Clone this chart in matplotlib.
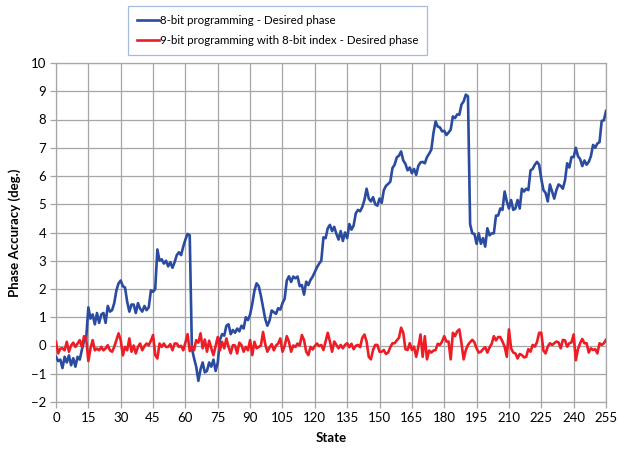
import matplotlib
matplotlib.use("Agg")
import matplotlib.pyplot as plt
import numpy as np

plt.rcParams['font.family'] = ['Lato', 'DejaVu Sans']

# x categories: programmed state 0..255
states = list(range(256))

# 8-bit programming - desired phase (deg.)
blue_8bit = [
    -0.40, -0.55, -0.50, -0.80, -0.40, -0.60, -0.35, -0.70, -0.45, -0.75,
    -0.40, -0.50, -0.15, 0.15, 0.25, 1.35, 0.95, 1.10, 0.75, 1.15,
    0.80, 1.10, 1.15, 0.80, 1.40, 1.20, 1.25, 1.50, 1.95, 2.20,
    2.30, 2.10, 2.05, 1.55, 1.20, 1.45, 1.45, 1.15, 1.50, 1.30,
    1.20, 1.40, 1.25, 1.35, 1.95, 1.90, 2.00, 3.40, 3.00, 3.05,
    2.90, 3.00, 2.80, 2.95, 2.75, 2.95, 3.20, 3.30, 3.20, 3.50,
    3.75, 3.95, 3.90, -0.10, -0.45, -0.75, -1.25, -0.85, -0.60, -0.95,
    -0.90, -0.60, -0.75, -0.50, -0.90, -0.60, 0.20, 0.40, 0.35, 0.70,
    0.75, 0.40, 0.55, 0.45, 0.60, 0.50, 0.70, 0.60, 1.00, 0.90,
    1.10, 1.47, 1.94, 2.20, 2.10, 1.76, 1.35, 0.94, 0.70, 0.88,
    1.24, 1.18, 1.12, 1.32, 1.27, 1.50, 1.65, 2.30, 2.45, 2.25,
    2.44, 2.38, 2.44, 2.10, 2.14, 1.80, 2.26, 2.14, 2.32, 2.44,
    2.60, 2.77, 2.90, 3.00, 3.83, 3.80, 4.15, 4.27, 4.05, 4.20,
    3.95, 3.75, 4.05, 3.70, 4.00, 3.80, 4.30, 4.10, 4.25, 4.68,
    4.80, 4.75, 4.90, 5.15, 5.55, 5.20, 5.10, 5.25, 5.00, 4.95,
    5.20, 5.05, 5.50, 5.65, 5.72, 5.80, 6.28, 6.40, 6.66, 6.72,
    6.87, 6.55, 6.43, 6.20, 6.30, 6.10, 6.25, 6.04, 6.36, 6.48,
    6.50, 6.45, 6.67, 6.79, 6.93, 7.52, 7.93, 7.75, 7.72, 7.58,
    7.60, 7.45, 7.54, 7.64, 8.11, 8.05, 8.18, 8.17, 8.53, 8.64,
    8.88, 8.82, 4.30, 3.97, 3.95, 3.60, 3.97, 3.60, 3.80, 3.50,
    4.15, 3.90, 3.97, 3.97, 4.60, 4.60, 4.85, 4.80, 5.45, 5.10,
    4.85, 5.15, 4.80, 4.85, 5.15, 4.85, 5.55, 5.45, 5.55, 5.50,
    6.20, 6.25, 6.40, 6.50, 6.40, 5.90, 5.50, 5.40, 5.10, 5.70,
    5.45, 5.20, 5.50, 5.70, 5.65, 5.55, 5.85, 6.45, 6.30, 6.67,
    6.67, 7.00, 6.70, 6.60, 6.35, 6.55, 6.40, 6.50, 6.70, 7.10,
    7.00, 7.15, 7.20, 7.95, 7.97, 8.30,
]

# 9-bit programming with 8-bit index - desired phase (deg.)
red_9bit = [
    0.13, -0.28, -0.11, -0.10, -0.17, 0.13, -0.22, 0.00, 0.10, -0.05,
    0.07, 0.19, -0.05, 0.33, 0.25, -0.55, -0.10, 0.19, -0.17, -0.11,
    -0.17, -0.05, -0.17, -0.10, 0.01, -0.17, -0.22, -0.05, 0.19, 0.43,
    0.19, -0.35, -0.05, -0.17, 0.25, -0.22, 0.00, -0.28, -0.05, 0.07,
    -0.17, -0.02, 0.07, 0.01, 0.17, 0.37, -0.34, -0.46, 0.07, -0.05,
    0.07, -0.05, -0.05, 0.05, -0.17, 0.07, 0.07, -0.05, -0.01, -0.17,
    0.10, 0.40, -0.20, -0.02, -0.17, 0.19, 0.10, 0.43, -0.10, 0.21,
    -0.22, 0.17, -0.10, -0.34, -0.02, 0.30, -0.17, 0.13, -0.10, 0.25,
    -0.05, -0.28, 0.01, 0.00, -0.28, 0.10, 0.01, -0.22, -0.05, -0.17,
    0.19, -0.34, 0.13, -0.10, -0.05, 0.00, 0.48, 0.05, -0.22, -0.07,
    0.05, -0.17, 0.00, 0.07, 0.25, -0.22, -0.02, 0.33, 0.13, -0.22,
    0.00, -0.05, 0.07, 0.00, 0.37, 0.19, -0.22, -0.34, -0.05, -0.14,
    -0.02, 0.07, -0.02, 0.02, -0.16, 0.14, 0.45, 0.14, -0.22, 0.14,
    0.02, -0.10, 0.02, -0.10, 0.02, 0.08, -0.06, 0.06, -0.13, -0.01,
    0.02, -0.06, 0.27, 0.39, 0.14, -0.40, -0.49, -0.16, 0.02, 0.02,
    -0.22, -0.22, -0.16, -0.30, -0.25, -0.06, 0.08, 0.08, 0.18, 0.27,
    0.63, 0.45, -0.13, -0.16, 0.08, -0.16, -0.04, -0.40, -0.04, 0.39,
    -0.40, 0.33, -0.49, -0.18, -0.25, -0.18, -0.16, 0.06, 0.02, 0.14,
    0.33, 0.14, 0.14, -0.49, 0.45, 0.33, 0.50, 0.57, 0.08, -0.49,
    -0.16, 0.02, 0.12, 0.20, 0.11, -0.10, -0.25, -0.22, -0.13, -0.06,
    -0.25, -0.07, 0.06, 0.33, 0.18, 0.30, 0.30, 0.14, -0.04, -0.40,
    0.57, -0.10, -0.25, -0.28, -0.46, -0.30, -0.34, -0.42, -0.40, -0.13,
    -0.22, 0.02, -0.04, 0.12, 0.45, 0.45, -0.18, -0.28, -0.04, 0.08,
    0.02, 0.08, 0.14, 0.11, -0.10, 0.20, 0.18, -0.04, 0.08, 0.11,
    0.39, -0.52, -0.13, 0.08, 0.23, 0.08, 0.08, -0.25, -0.10, -0.16,
    -0.13, -0.28, 0.08, 0.02, 0.08, 0.20,
]

x_ticks = list(range(0, 256, 15))
y_ticks = list(range(-2, 11))
series_names = ["8-bit programming - Desired phase",
                "9-bit programming with 8-bit index - Desired phase"]

W, H = 618, 451
fig = plt.figure(figsize=(W / 100, H / 100), dpi=100)
ax = fig.add_axes([56 / W, 1 - 402 / H, (606 - 56) / W, (402 - 63) / H])

grid_col = "#A6A6A6"
ax.plot(states, blue_8bit, color="#2B4BA0", lw=1.9, label=series_names[0],
        solid_joinstyle="round", zorder=3)
ax.plot(states, red_9bit, color="#EE1D25", lw=1.9, label=series_names[1],
        solid_joinstyle="round", zorder=4)

ax.set_xlim(0, 255)
ax.set_ylim(-2, 10)
ax.set_xticks(x_ticks)
ax.set_yticks(y_ticks)
ax.grid(True, color=grid_col, lw=0.9)
ax.set_axisbelow(True)
for s in ax.spines.values():
    s.set_color(grid_col)
    s.set_linewidth(0.9)
ax.tick_params(axis="both", colors=grid_col, labelcolor="black",
               labelsize=9.5, length=4, width=0.9, pad=3)

ax.set_xlabel("State", fontsize=9.5, fontweight="bold", labelpad=6)
ax.set_ylabel("Phase Accuracy (deg.)", fontsize=9.5, fontweight="bold", labelpad=7)

leg = fig.legend(loc="upper left", bbox_to_anchor=(128 / W, 1 - 6 / H),
                 fontsize=8.3, frameon=True, fancybox=False,
                 handlelength=1.9, handletextpad=0.1, borderpad=0.75,
                 labelspacing=0.85, borderaxespad=0)
leg.get_frame().set_edgecolor("#8FAAD6")
leg.get_frame().set_linewidth(0.9)

fig.savefig("out.png", dpi=100)
